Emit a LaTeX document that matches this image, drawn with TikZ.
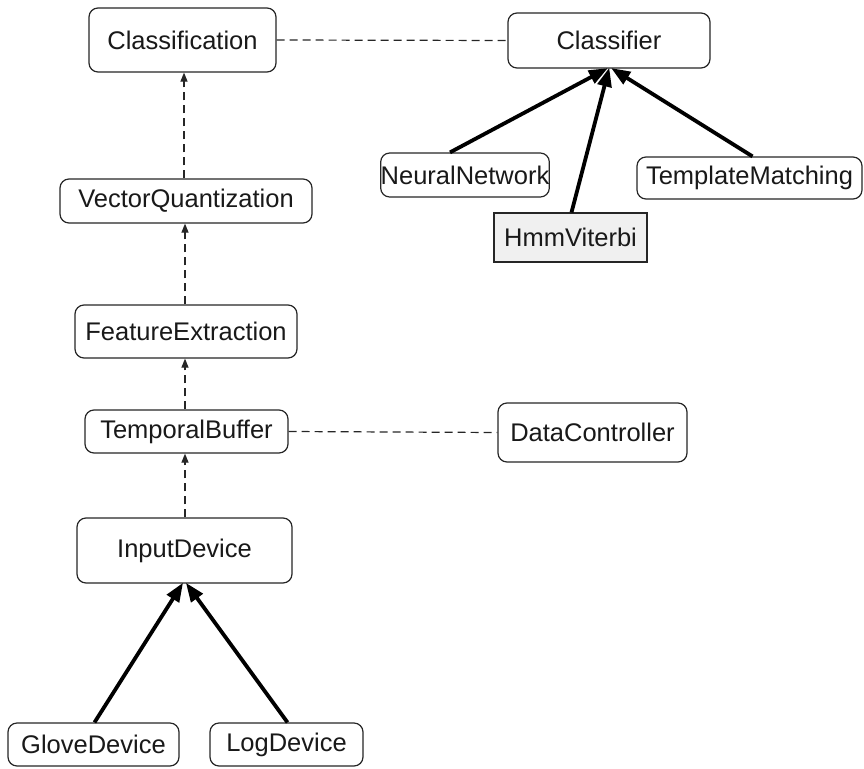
\documentclass[tikz,border=0pt]{standalone}
\usepackage{fontspec}
\setmainfont{Liberation Sans}
\usetikzlibrary{arrows.meta}

\tikzset{
  cls/.style={draw=black!85, line width=1.2pt, rounded corners=9pt, fill=white,
              inner sep=0pt, font=\fontsize{25.5}{28}\selectfont, text=black!90},
  clsplain/.style={draw=black!85, line width=1.2pt, fill=black!6,
              inner sep=0pt, font=\fontsize{25.5}{28}\selectfont, text=black!90},
  dep/.style={draw=black!85, line width=1.2pt, dash pattern=on 8pt off 5pt,
              -{Triangle[length=9pt,width=7pt]}},
  assoc/.style={draw=black!85, line width=1.2pt, dash pattern=on 8pt off 5pt},
  inherit/.style={draw=black, line width=3.8pt,
              -{Triangle[length=19pt,width=14pt]}, shorten >=-1pt}
}

\begin{document}
\begin{tikzpicture}[x=1pt,y=-1pt]
  \useasboundingbox (0,0) rectangle (864,768);

  % processing chain
  \node[cls, minimum width=187pt, minimum height=64pt] (classification) at (182.5,40) {Classification};
  \node[cls, minimum width=252pt, minimum height=44pt] (vq) at (186,201) {VectorQuantization};
  \node[cls, minimum width=222pt, minimum height=53pt] (fe) at (186,331.5) {FeatureExtraction};
  \node[cls, minimum width=203pt, minimum height=43pt] (tb) at (186.5,431.5) {TemporalBuffer};
  \node[cls, minimum width=215pt, minimum height=65pt] (input) at (184.5,550.5) {InputDevice};

  % input devices
  \node[cls, minimum width=171pt, minimum height=43pt] (glove) at (93.5,744.5) {GloveDevice};
  \node[cls, minimum width=153pt, minimum height=43pt] (log) at (286.5,744.5) {LogDevice};

  % classifiers
  \node[cls, minimum width=202pt, minimum height=55pt] (classifier) at (609,40.5) {Classifier};
  \node[cls, minimum width=160pt, minimum height=44pt] (nn) at (465,175) {NeuralNetwork};
  \node[clsplain, minimum width=153pt, minimum height=49pt] (hmm) at (570.5,237.5) {HmmViterbi};
  \node[cls, minimum width=225pt, minimum height=42pt] (tm) at (749.5,178) {TemplateMatching};

  % controller
  \node[cls, minimum width=189pt, minimum height=59pt] (dc) at (592.5,432.5) {DataController};

  % dependencies along the chain
  \draw[dep] (vq.north -| 184,0) -- (classification.south -| 184,0);
  \draw[dep] (fe.north -| 185,0) -- (vq.south -| 185,0);
  \draw[dep] (tb.north -| 185,0) -- (fe.south -| 185,0);
  \draw[dep] (input.north -| 185,0) -- (tb.south -| 185,0);

  % associations
  \draw[assoc] (classification.east) -- (classifier.west);
  \draw[assoc] (tb.east) -- (dc.west);

  % generalisations
  \draw[inherit] ([xshift=-15pt]nn.north) -- ([xshift=-2pt]classifier.south);
  \draw[inherit] ([xshift=1pt]hmm.north) -- (classifier.south);
  \draw[inherit] ([xshift=3pt]tm.north) -- ([xshift=3pt]classifier.south);
  \draw[inherit] ([xshift=1pt]glove.north) -- ([xshift=-2pt]input.south);
  \draw[inherit] ([xshift=1pt]log.north) -- ([xshift=2pt]input.south);
\end{tikzpicture}
\end{document}
